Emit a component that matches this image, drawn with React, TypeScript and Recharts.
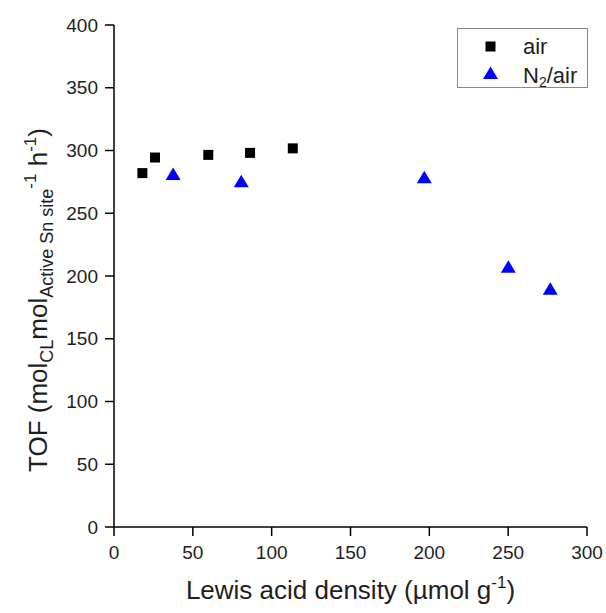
import { ScatterChart, Scatter, XAxis, YAxis, Legend } from "recharts";

// Lewis acid density (µmol g-1) vs TOF
const AIR_X = [18.0, 26.0, 59.8, 86.3, 113.4];
const AIR_Y = [282.0, 294.4, 296.5, 298.1, 301.7];
const N2_X = [37.5, 80.7, 196.8, 250.1, 276.7];
const N2_Y = [281.3, 275.4, 278.6, 207.3, 189.9];

const X_TICKS = [0, 50, 100, 150, 200, 250, 300];
const Y_TICKS = [0, 50, 100, 150, 200, 250, 300, 350, 400];

const FONT = "'Liberation Sans', Arial, sans-serif";
const TEXT = "#1e1e1e";

const airData = AIR_X.map((x, i) => ({ x, y: AIR_Y[i] }));
const n2Data = N2_X.map((x, i) => ({ x, y: N2_Y[i] }));

const Square = (props: any) => {
  const { cx, cy } = props;
  return <rect x={cx - 5} y={cy - 5} width={10} height={10} fill="#000" />;
};

const Triangle = (props: any) => {
  const { cx, cy } = props;
  return (
    <polygon
      points={`${cx},${cy - 6.5} ${cx - 7.5},${cy + 6} ${cx + 7.5},${cy + 6}`}
      fill="#0000ff"
    />
  );
};

const XTitle = (props: any) => {
  const { viewBox } = props;
  const cx = viewBox.x + viewBox.width / 2;
  return (
    <text x={cx} y={viewBox.y + 72} textAnchor="middle" fontSize={26} fontFamily={FONT} fill={TEXT}>
      Lewis acid density (µmol g
      <tspan fontSize={17} dy={-11}>-1</tspan>
      <tspan dy={11}>)</tspan>
    </text>
  );
};

const YTitle = () => {
  const cx = 47;
  const cy = 300;
  return (
    <text
      x={cx}
      y={cy}
      transform={`rotate(-90, ${cx}, ${cy})`}
      textAnchor="middle"
      fontSize={26}
      fontFamily={FONT}
      fill={TEXT}
    >
      TOF (mol
      <tspan fontSize={18} dy={6}>CL</tspan>
      <tspan dy={-6}>mol</tspan>
      <tspan fontSize={18} dy={6}>Active Sn site</tspan>
      <tspan fontSize={17} dy={-17}>-1</tspan>
      <tspan dy={11}> h</tspan>
      <tspan fontSize={17} dy={-11}>-1</tspan>
      <tspan dy={11}>)</tspan>
    </text>
  );
};

const LegendBox = (props: any) => {
  const { payload } = props;
  return (
    <div style={{ width: 129, height: 58, border: "1px solid #8a8a8a", background: "#fff" }}>
      <svg width={129} height={58} style={{ overflow: "visible", display: "block" }}>
        {(payload || []).map((p: any, i: number) => {
          const cy = i === 0 ? 17.5 : 44;
          const base = i === 0 ? 25 : 54;
          return (
            <g key={p.value}>
              {i === 0 ? (
                <rect x={27.5} y={cy - 5} width={10} height={10} fill="#000" />
              ) : (
                <polygon points={`32.5,${cy - 6.5} 25,${cy + 6} 40,${cy + 6}`} fill="#0000ff" />
              )}
              <text x={65} y={base} fontSize={22} fontFamily={FONT} fill={TEXT}>
                {i === 0 ? (
                  "air"
                ) : (
                  <>
                    N<tspan fontSize={14} dy={4}>2</tspan>
                    <tspan dy={-4}>/air</tspan>
                  </>
                )}
              </text>
            </g>
          );
        })}
      </svg>
    </div>
  );
};

export default function App() {
  return (
    <div style={{ position: "absolute", left: 0, top: 0, width: 606, height: 613, background: "#fff" }}>
      <ScatterChart width={606} height={613} margin={{ top: 25, right: 19, left: 0, bottom: 0 }}>
        <XAxis
          type="number"
          dataKey="x"
          domain={[0, 300]}
          ticks={X_TICKS}
          height={86}
          stroke="#000"
          strokeWidth={1.5}
          tickSize={9}
          tickMargin={10}
          tick={{ fill: TEXT, fontSize: 19, fontFamily: FONT }}
          allowDataOverflow
          label={<XTitle />}
        />
        <YAxis
          type="number"
          dataKey="y"
          domain={[0, 400]}
          ticks={Y_TICKS}
          width={114}
          stroke="#000"
          strokeWidth={1.5}
          tickSize={9}
          tickMargin={7}
          tick={{ fill: TEXT, fontSize: 19, fontFamily: FONT }}
          allowDataOverflow
          label={<YTitle />}
        />
        <Legend
          layout="vertical"
          align="center"
          verticalAlign="middle"
          content={<LegendBox />}
          wrapperStyle={{ position: "absolute", left: 457, top: 28, width: 131, height: 60 }}
        />
        <Scatter name="air" data={airData} shape={<Square />} fill="#000" isAnimationActive={false} />
        <Scatter name="N2/air" data={n2Data} shape={<Triangle />} fill="#0000ff" isAnimationActive={false} />
      </ScatterChart>
    </div>
  );
}
